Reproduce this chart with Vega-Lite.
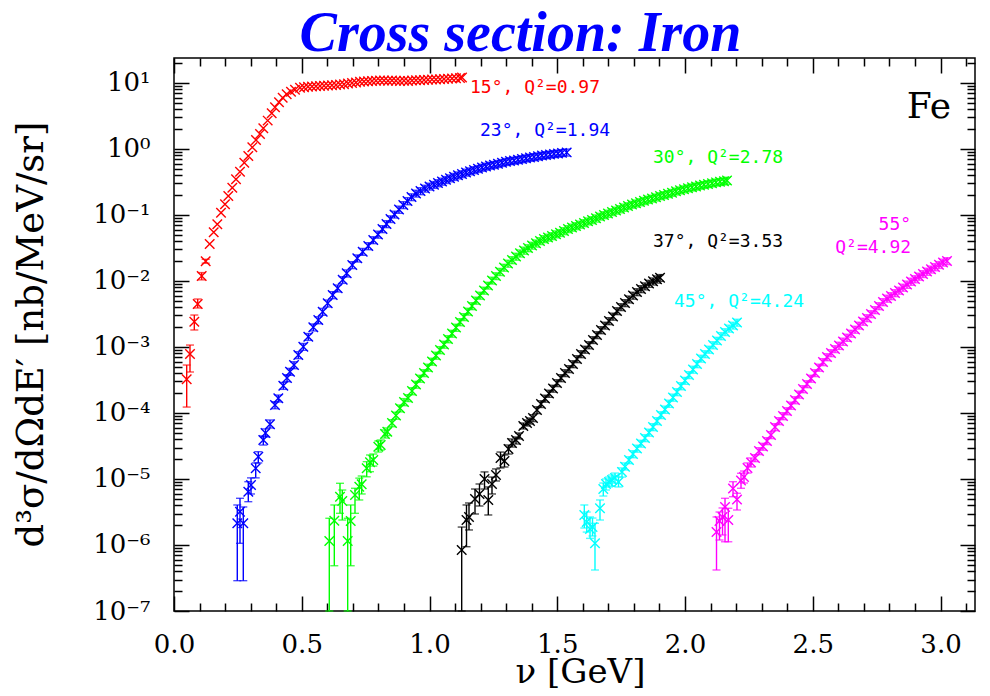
{
  "$schema": "https://vega.github.io/schema/vega-lite/v6.json",
  "width": 801,
  "height": 553,
  "autosize": {"type": "none"},
  "padding": {"left": 174, "top": 58, "right": 15, "bottom": 85},
  "background": "white",
  "title": {
    "text": "Cross section: Iron",
    "font": "Liberation Serif",
    "fontSize": 56,
    "fontStyle": "italic",
    "fontWeight": "bold",
    "color": "#0000ff",
    "anchor": "middle",
    "frame": "group",
    "dx": -54,
    "offset": -50,
    "baseline": "alphabetic"
  },
  "config": {
    "view": {"stroke": "black", "strokeWidth": 1.5},
    "axis": {
      "domain": false,
      "grid": false,
      "tickColor": "black",
      "tickWidth": 1.5,
      "labelColor": "black",
      "titleColor": "black",
      "labelFont": "DejaVu Serif",
      "titleFont": "DejaVu Serif",
      "titleFontWeight": "normal",
      "labelFlush": false,
      "labelOverlap": false
    }
  },
  "datasets": {
    "pts": [
      {"s":"15","x":0.0497,"y":3.24e-4,"lo":1.23e-4,"hi":5.33e-4},
      {"s":"15","x":0.0626,"y":7.83e-4,"lo":4.18e-4,"hi":1.07e-3},
      {"s":"15","x":0.0795,"y":2.42e-3,"lo":1.81e-3,"hi":3.05e-3},
      {"s":"15","x":0.0928,"y":4.49e-3,"lo":3.90e-3,"hi":5.33e-3},
      {"s":"15","x":0.1084,"y":1.19e-2,"lo":1.04e-2,"hi":1.34e-2},
      {"s":"15","x":0.124,"y":1.99e-2,"lo":1.86e-2,"hi":2.13e-2},
      {"s":"15","x":0.1397,"y":3.64e-2},
      {"s":"15","x":0.1554,"y":5.47e-2},
      {"s":"15","x":0.1695,"y":7.23e-2},
      {"s":"15","x":0.184,"y":0.108},
      {"s":"15","x":0.1996,"y":0.145},
      {"s":"15","x":0.2125,"y":0.194},
      {"s":"15","x":0.2282,"y":0.259},
      {"s":"15","x":0.2427,"y":0.348},
      {"s":"15","x":0.2583,"y":0.453},
      {"s":"15","x":0.2751,"y":0.619},
      {"s":"15","x":0.2908,"y":0.784},
      {"s":"15","x":0.3065,"y":1.06},
      {"s":"15","x":0.3209,"y":1.37},
      {"s":"15","x":0.3366,"y":1.69},
      {"s":"15","x":0.3495,"y":2.06},
      {"s":"15","x":0.3667,"y":2.69},
      {"s":"15","x":0.3824,"y":3.47},
      {"s":"15","x":0.3953,"y":4.28},
      {"s":"15","x":0.411,"y":5.11},
      {"s":"15","x":0.4254,"y":5.99},
      {"s":"15","x":0.4411,"y":6.75},
      {"s":"15","x":0.4579,"y":7.38},
      {"s":"15","x":0.4736,"y":7.91},
      {"s":"15","x":0.4932,"y":8.49},
      {"s":"15","x":0.5088,"y":8.63},
      {"s":"15","x":0.5245,"y":8.75},
      {"s":"15","x":0.5401,"y":8.85},
      {"s":"15","x":0.5558,"y":8.95},
      {"s":"15","x":0.5714,"y":9.01},
      {"s":"15","x":0.5871,"y":9.07},
      {"s":"15","x":0.6027,"y":9.17},
      {"s":"15","x":0.6184,"y":9.26},
      {"s":"15","x":0.6341,"y":9.33},
      {"s":"15","x":0.6497,"y":9.46},
      {"s":"15","x":0.6654,"y":9.59},
      {"s":"15","x":0.681,"y":9.79},
      {"s":"15","x":0.6967,"y":10.0},
      {"s":"15","x":0.7123,"y":10.2},
      {"s":"15","x":0.728,"y":10.4},
      {"s":"15","x":0.7436,"y":10.5},
      {"s":"15","x":0.7593,"y":10.6},
      {"s":"15","x":0.775,"y":10.7},
      {"s":"15","x":0.7906,"y":10.8},
      {"s":"15","x":0.8063,"y":10.9},
      {"s":"15","x":0.8219,"y":10.9},
      {"s":"15","x":0.8376,"y":10.8},
      {"s":"15","x":0.8532,"y":10.9},
      {"s":"15","x":0.8689,"y":10.8},
      {"s":"15","x":0.8845,"y":10.7},
      {"s":"15","x":0.9002,"y":10.8},
      {"s":"15","x":0.9159,"y":10.7},
      {"s":"15","x":0.9315,"y":10.9},
      {"s":"15","x":0.9472,"y":11.0},
      {"s":"15","x":0.9628,"y":11.0},
      {"s":"15","x":0.9785,"y":11.1},
      {"s":"15","x":0.9941,"y":11.2},
      {"s":"15","x":1.0098,"y":11.3},
      {"s":"15","x":1.0254,"y":11.3},
      {"s":"15","x":1.0411,"y":11.4},
      {"s":"15","x":1.0568,"y":11.5},
      {"s":"15","x":1.0724,"y":11.6},
      {"s":"15","x":1.0881,"y":11.7},
      {"s":"15","x":1.1037,"y":11.8},
      {"s":"15","x":1.1194,"y":11.9},
      {"s":"15","x":1.1272,"y":12.1},

      {"s":"23","x":0.2477,"y":2.13e-6,"lo":2.88e-7,"hi":4.04e-6},
      {"s":"23","x":0.2583,"y":3.20e-6,"lo":1.06e-6,"hi":5.10e-6},
      {"s":"23","x":0.2712,"y":2.13e-6,"lo":2.88e-7,"hi":3.77e-6},
      {"s":"23","x":0.2908,"y":6.43e-6,"lo":4.53e-6,"hi":9.10e-6},
      {"s":"23","x":0.3014,"y":8.11e-6,"lo":5.93e-6,"hi":1.04e-5},
      {"s":"23","x":0.3198,"y":1.45e-5,"lo":1.04e-5,"hi":1.75e-5},
      {"s":"23","x":0.3299,"y":2.18e-5,"lo":1.75e-5,"hi":2.59e-5},
      {"s":"23","x":0.3495,"y":3.90e-5,"lo":3.27e-5,"hi":4.49e-5},
      {"s":"23","x":0.3581,"y":4.98e-5,"lo":4.33e-5,"hi":5.73e-5},
      {"s":"23","x":0.3757,"y":6.75e-5,"lo":5.93e-5,"hi":7.83e-5},
      {"s":"23","x":0.3953,"y":1.32e-4,"e":1.6e-5},
      {"s":"23","x":0.4082,"y":1.67e-4,"e":2.0e-5},
      {"s":"23","x":0.4278,"y":2.59e-4,"e":3.1e-5},
      {"s":"23","x":0.4423,"y":3.39e-4,"e":4.1e-5},
      {"s":"23","x":0.454,"y":4.23e-4,"e":5.1e-5},
      {"s":"23","x":0.4697,"y":5.33e-4,"e":6.4e-5},
      {"s":"23","x":0.4865,"y":7.57e-4,"e":9.1e-5},
      {"s":"23","x":0.5061,"y":1.01e-3,"e":1.2e-4},
      {"s":"23","x":0.5256,"y":1.43e-3,"e":1.7e-4},
      {"s":"23","x":0.5452,"y":1.99e-3,"e":2.4e-4},
      {"s":"23","x":0.5648,"y":2.56e-3,"e":3.1e-4},
      {"s":"23","x":0.582,"y":3.43e-3,"e":4.1e-4},
      {"s":"23","x":0.6016,"y":4.59e-3,"e":5.5e-4},
      {"s":"23","x":0.6211,"y":6.14e-3,"e":7.4e-4},
      {"s":"23","x":0.6407,"y":7.75e-3,"e":9.3e-4},
      {"s":"23","x":0.6603,"y":1.04e-2,"e":1.2e-3},
      {"s":"23","x":0.6759,"y":1.31e-2,"e":1.6e-3},
      {"s":"23","x":0.6978,"y":1.75e-2,"e":2.1e-3},
      {"s":"23","x":0.7174,"y":2.21e-2,"e":2.7e-3},
      {"s":"23","x":0.7386,"y":2.78e-2,"e":3.3e-3},
      {"s":"23","x":0.7605,"y":3.39e-2,"e":4.1e-3},
      {"s":"23","x":0.78,"y":4.18e-2,"e":5.0e-3},
      {"s":"23","x":0.7984,"y":5.07e-2,"e":6.1e-3},
      {"s":"23","x":0.816,"y":6.14e-2,"e":7.4e-3},
      {"s":"23","x":0.8317,"y":7.31e-2,"e":8.8e-3},
      {"s":"23","x":0.8474,"y":8.69e-2,"e":1.0e-2},
      {"s":"23","x":0.863,"y":0.102,"e":0.012},
      {"s":"23","x":0.8806,"y":0.121,"e":0.015},
      {"s":"23","x":0.8975,"y":0.142,"e":0.017},
      {"s":"23","x":0.9139,"y":0.163,"e":0.020},
      {"s":"23","x":0.9295,"y":0.187,"e":0.022},
      {"s":"23","x":0.9472,"y":0.212,"e":0.025},
      {"s":"23","x":0.9648,"y":0.231,"e":0.028},
      {"s":"23","x":0.9824,"y":0.252,"e":0.030},
      {"s":"23","x":1.0,"y":0.270,"e":0.032},
      {"s":"23","x":1.0176,"y":0.287,"e":0.034},
      {"s":"23","x":1.0333,"y":0.305,"e":0.037},
      {"s":"23","x":1.0489,"y":0.322,"e":0.039},
      {"s":"23","x":1.0646,"y":0.341,"e":0.041},
      {"s":"23","x":1.0802,"y":0.361,"e":0.043},
      {"s":"23","x":1.0959,"y":0.380,"e":0.046},
      {"s":"23","x":1.1115,"y":0.400,"e":0.048},
      {"s":"23","x":1.1272,"y":0.418,"e":0.050},
      {"s":"23","x":1.1429,"y":0.441,"e":0.053},
      {"s":"23","x":1.1585,"y":0.461,"e":0.055},
      {"s":"23","x":1.1742,"y":0.481,"e":0.058},
      {"s":"23","x":1.1898,"y":0.501,"e":0.060},
      {"s":"23","x":1.2055,"y":0.523,"e":0.063},
      {"s":"23","x":1.2211,"y":0.543,"e":0.065},
      {"s":"23","x":1.2368,"y":0.562,"e":0.067},
      {"s":"23","x":1.2524,"y":0.576,"e":0.069},
      {"s":"23","x":1.2681,"y":0.597,"e":0.072},
      {"s":"23","x":1.2838,"y":0.618,"e":0.074},
      {"s":"23","x":1.2994,"y":0.640,"e":0.077},
      {"s":"23","x":1.3151,"y":0.658,"e":0.079},
      {"s":"23","x":1.3307,"y":0.670,"e":0.080},
      {"s":"23","x":1.3464,"y":0.686,"e":0.082},
      {"s":"23","x":1.362,"y":0.705,"e":0.085},
      {"s":"23","x":1.3777,"y":0.723,"e":0.087},
      {"s":"23","x":1.3933,"y":0.741,"e":0.089},
      {"s":"23","x":1.409,"y":0.757,"e":0.091},
      {"s":"23","x":1.4247,"y":0.775,"e":0.093},
      {"s":"23","x":1.4403,"y":0.794,"e":0.095},
      {"s":"23","x":1.456,"y":0.811,"e":0.097},
      {"s":"23","x":1.4716,"y":0.828,"e":0.099},
      {"s":"23","x":1.4873,"y":0.843,"e":0.101},
      {"s":"23","x":1.5029,"y":0.857,"e":0.103},
      {"s":"23","x":1.5186,"y":0.873,"e":0.105},
      {"s":"23","x":1.537,"y":0.888,"e":0.107},

      {"s":"30","x":0.6078,"y":1.15e-6,"lo":1e-7,"hi":2.54e-6},
      {"s":"30","x":0.6274,"y":2.33e-6,"lo":4.85e-7,"hi":4.04e-6},
      {"s":"30","x":0.6497,"y":5.39e-6,"lo":3.02e-6,"hi":8.61e-6},
      {"s":"30","x":0.6587,"y":4.65e-6,"lo":2.39e-6,"hi":6.81e-6},
      {"s":"30","x":0.6798,"y":1.15e-6,"lo":1e-7,"hi":2.54e-6},
      {"s":"30","x":0.6916,"y":2.31e-6,"lo":4.85e-7,"hi":4.04e-6},
      {"s":"30","x":0.7084,"y":5.73e-6,"lo":3.02e-6,"hi":7.23e-6},
      {"s":"30","x":0.7252,"y":7.64e-6,"lo":4.81e-6,"hi":1.03e-5},
      {"s":"30","x":0.7346,"y":8.32e-6,"lo":5.93e-6,"hi":1.11e-5},
      {"s":"30","x":0.7542,"y":1.45e-5,"lo":1.08e-5,"hi":1.83e-5},
      {"s":"30","x":0.7671,"y":1.79e-5,"lo":1.29e-5,"hi":2.31e-5},
      {"s":"30","x":0.78,"y":1.94e-5,"lo":1.57e-5,"hi":2.39e-5},
      {"s":"30","x":0.7996,"y":3.08e-5,"lo":2.56e-5,"hi":3.77e-5},
      {"s":"30","x":0.809,"y":3.27e-5,"lo":2.75e-5,"hi":3.90e-5},
      {"s":"30","x":0.8258,"y":4.81e-5,"lo":4.18e-5,"hi":5.52e-5},
      {"s":"30","x":0.8348,"y":5.21e-5,"lo":4.56e-5,"hi":5.93e-5},
      {"s":"30","x":0.8532,"y":7.05e-5,"e":8.5e-6},
      {"s":"30","x":0.8689,"y":9.16e-5,"e":1.1e-5},
      {"s":"30","x":0.8845,"y":1.18e-4,"e":1.4e-5},
      {"s":"30","x":0.9002,"y":1.47e-4,"e":1.8e-5},
      {"s":"30","x":0.9159,"y":1.69e-4,"e":2.0e-5},
      {"s":"30","x":0.9315,"y":2.15e-4,"e":2.6e-5},
      {"s":"30","x":0.9472,"y":2.70e-4,"e":3.2e-5},
      {"s":"30","x":0.9628,"y":3.33e-4,"e":4.0e-5},
      {"s":"30","x":0.9785,"y":4.04e-4,"e":4.8e-5},
      {"s":"30","x":0.9941,"y":4.89e-4,"e":5.9e-5},
      {"s":"30","x":1.0098,"y":6.03e-4,"e":7.2e-5},
      {"s":"30","x":1.0254,"y":7.43e-4,"e":8.9e-5},
      {"s":"30","x":1.0411,"y":9.02e-4,"e":1.1e-4},
      {"s":"30","x":1.0568,"y":1.09e-3,"e":1.3e-4},
      {"s":"30","x":1.0724,"y":1.32e-3,"e":1.6e-4},
      {"s":"30","x":1.0881,"y":1.60e-3,"e":1.9e-4},
      {"s":"30","x":1.1037,"y":1.97e-3,"e":2.4e-4},
      {"s":"30","x":1.1194,"y":2.39e-3,"e":2.9e-4},
      {"s":"30","x":1.135,"y":2.85e-3,"e":3.4e-4},
      {"s":"30","x":1.1507,"y":3.45e-3,"e":4.1e-4},
      {"s":"30","x":1.1663,"y":4.18e-3,"e":5.0e-4},
      {"s":"30","x":1.182,"y":5.07e-3,"e":6.1e-4},
      {"s":"30","x":1.1977,"y":6.03e-3,"e":7.2e-4},
      {"s":"30","x":1.2133,"y":7.18e-3,"e":8.6e-4},
      {"s":"30","x":1.229,"y":8.55e-3,"e":1.0e-3},
      {"s":"30","x":1.2446,"y":1.02e-2,"e":1.2e-3},
      {"s":"30","x":1.2603,"y":1.19e-2,"e":1.4e-3},
      {"s":"30","x":1.2759,"y":1.38e-2,"e":1.7e-3},
      {"s":"30","x":1.2916,"y":1.60e-2,"e":1.9e-3},
      {"s":"30","x":1.3072,"y":1.84e-2,"e":2.2e-3},
      {"s":"30","x":1.3229,"y":2.08e-2,"e":2.5e-3},
      {"s":"30","x":1.3386,"y":2.35e-2,"e":2.8e-3},
      {"s":"30","x":1.3542,"y":2.63e-2,"e":3.2e-3},
      {"s":"30","x":1.3699,"y":2.90e-2,"e":3.5e-3},
      {"s":"30","x":1.3855,"y":3.16e-2,"e":3.8e-3},
      {"s":"30","x":1.4012,"y":3.45e-2,"e":4.1e-3},
      {"s":"30","x":1.4168,"y":3.72e-2,"e":4.5e-3},
      {"s":"30","x":1.4325,"y":4.04e-2,"e":4.8e-3},
      {"s":"30","x":1.4481,"y":4.33e-2,"e":5.2e-3},
      {"s":"30","x":1.4638,"y":4.56e-2,"e":5.5e-3},
      {"s":"30","x":1.4795,"y":4.81e-2,"e":5.8e-3},
      {"s":"30","x":1.4951,"y":5.12e-2,"e":6.1e-3},
      {"s":"30","x":1.5108,"y":5.37e-2,"e":6.4e-3},
      {"s":"30","x":1.5264,"y":5.73e-2,"e":6.9e-3},
      {"s":"30","x":1.5421,"y":6.14e-2,"e":7.4e-3},
      {"s":"30","x":1.5577,"y":6.47e-2,"e":7.8e-3},
      {"s":"30","x":1.5734,"y":6.81e-2,"e":8.2e-3},
      {"s":"30","x":1.589,"y":7.18e-2,"e":8.6e-3},
      {"s":"30","x":1.6047,"y":7.57e-2,"e":9.1e-3},
      {"s":"30","x":1.6204,"y":8.03e-2,"e":9.6e-3},
      {"s":"30","x":1.636,"y":8.40e-2,"e":1.0e-2},
      {"s":"30","x":1.6517,"y":8.91e-2,"e":1.1e-2},
      {"s":"30","x":1.6673,"y":9.49e-2,"e":1.1e-2},
      {"s":"30","x":1.683,"y":0.100,"e":0.012},
      {"s":"30","x":1.6986,"y":0.105,"e":0.013},
      {"s":"30","x":1.7143,"y":0.111,"e":0.013},
      {"s":"30","x":1.73,"y":0.117,"e":0.014},
      {"s":"30","x":1.7456,"y":0.123,"e":0.015},
      {"s":"30","x":1.7613,"y":0.130,"e":0.016},
      {"s":"30","x":1.7769,"y":0.137,"e":0.016},
      {"s":"30","x":1.7926,"y":0.144,"e":0.017},
      {"s":"30","x":1.8082,"y":0.150,"e":0.018},
      {"s":"30","x":1.8239,"y":0.157,"e":0.019},
      {"s":"30","x":1.8395,"y":0.164,"e":0.020},
      {"s":"30","x":1.8552,"y":0.171,"e":0.021},
      {"s":"30","x":1.8708,"y":0.178,"e":0.021},
      {"s":"30","x":1.8865,"y":0.185,"e":0.022},
      {"s":"30","x":1.9022,"y":0.194,"e":0.023},
      {"s":"30","x":1.9178,"y":0.201,"e":0.024},
      {"s":"30","x":1.9335,"y":0.209,"e":0.025},
      {"s":"30","x":1.9491,"y":0.218,"e":0.026},
      {"s":"30","x":1.9648,"y":0.228,"e":0.027},
      {"s":"30","x":1.9804,"y":0.237,"e":0.028},
      {"s":"30","x":1.9961,"y":0.246,"e":0.030},
      {"s":"30","x":2.0117,"y":0.255,"e":0.031},
      {"s":"30","x":2.0274,"y":0.263,"e":0.032},
      {"s":"30","x":2.0431,"y":0.271,"e":0.033},
      {"s":"30","x":2.0587,"y":0.279,"e":0.033},
      {"s":"30","x":2.0744,"y":0.287,"e":0.034},
      {"s":"30","x":2.09,"y":0.295,"e":0.035},
      {"s":"30","x":2.1057,"y":0.303,"e":0.036},
      {"s":"30","x":2.1213,"y":0.312,"e":0.037},
      {"s":"30","x":2.137,"y":0.318,"e":0.038},
      {"s":"30","x":2.1526,"y":0.325,"e":0.039},
      {"s":"30","x":2.1644,"y":0.332,"e":0.040},

      {"s":"37","x":1.126,"y":8.39e-7,"lo":1e-7,"hi":1.87e-6},
      {"s":"37","x":1.1448,"y":2.39e-6,"lo":9.42e-7,"hi":4.04e-6},
      {"s":"37","x":1.1546,"y":2.66e-6,"lo":1.69e-6,"hi":4.33e-6},
      {"s":"37","x":1.1781,"y":4.98e-6,"lo":2.95e-6,"hi":7.05e-6},
      {"s":"37","x":1.1957,"y":5.93e-6,"lo":3.90e-6,"hi":8.40e-6},
      {"s":"37","x":1.2153,"y":1.00e-5,"lo":7.05e-6,"hi":1.28e-5},
      {"s":"37","x":1.2301,"y":4.81e-6,"lo":2.85e-6,"hi":7.57e-6},
      {"s":"37","x":1.2446,"y":8.40e-6,"lo":5.93e-6,"hi":1.07e-5},
      {"s":"37","x":1.2603,"y":1.15e-5,"lo":9.33e-6,"hi":1.42e-5},
      {"s":"37","x":1.2779,"y":2.08e-5,"lo":1.47e-5,"hi":2.56e-5},
      {"s":"37","x":1.2935,"y":1.87e-5,"lo":1.52e-5,"hi":2.31e-5},
      {"s":"37","x":1.3092,"y":2.85e-5,"lo":2.39e-5,"hi":3.27e-5},
      {"s":"37","x":1.3229,"y":3.51e-5,"lo":3.05e-5,"hi":4.04e-5},
      {"s":"37","x":1.3386,"y":3.90e-5,"lo":3.39e-5,"hi":4.33e-5},
      {"s":"37","x":1.3503,"y":4.49e-5,"lo":4.04e-5,"hi":4.98e-5},
      {"s":"37","x":1.3671,"y":6.35e-5,"lo":5.73e-5,"hi":7.05e-5},
      {"s":"37","x":1.3816,"y":7.05e-5,"lo":6.35e-5,"hi":7.83e-5},
      {"s":"37","x":1.3933,"y":7.57e-5,"lo":6.81e-5,"hi":8.40e-5},
      {"s":"37","x":1.4051,"y":8.40e-5,"e":1.0e-5},
      {"s":"37","x":1.4207,"y":1.11e-4,"e":1.3e-5},
      {"s":"37","x":1.4364,"y":1.37e-4,"e":1.6e-5},
      {"s":"37","x":1.4521,"y":1.66e-4,"e":2.0e-5},
      {"s":"37","x":1.4677,"y":1.97e-4,"e":2.4e-5},
      {"s":"37","x":1.4834,"y":2.35e-4,"e":2.8e-5},
      {"s":"37","x":1.499,"y":2.85e-4,"e":3.4e-5},
      {"s":"37","x":1.5147,"y":3.39e-4,"e":4.1e-5},
      {"s":"37","x":1.5303,"y":4.04e-4,"e":4.8e-5},
      {"s":"37","x":1.546,"y":4.65e-4,"e":5.6e-5},
      {"s":"37","x":1.5616,"y":5.52e-4,"e":6.6e-5},
      {"s":"37","x":1.5773,"y":6.58e-4,"e":7.9e-5},
      {"s":"37","x":1.593,"y":7.83e-4,"e":9.4e-5},
      {"s":"37","x":1.6086,"y":9.16e-4,"e":1.1e-4},
      {"s":"37","x":1.6243,"y":1.07e-3,"e":1.3e-4},
      {"s":"37","x":1.6399,"y":1.28e-3,"e":1.5e-4},
      {"s":"37","x":1.6556,"y":1.52e-3,"e":1.8e-4},
      {"s":"37","x":1.6712,"y":1.81e-3,"e":2.2e-4},
      {"s":"37","x":1.6869,"y":2.12e-3,"e":2.5e-4},
      {"s":"37","x":1.7025,"y":2.48e-3,"e":3.0e-4},
      {"s":"37","x":1.7182,"y":2.90e-3,"e":3.5e-4},
      {"s":"37","x":1.7339,"y":3.51e-3,"e":4.2e-4},
      {"s":"37","x":1.7495,"y":4.04e-3,"e":4.8e-4},
      {"s":"37","x":1.7652,"y":4.65e-3,"e":5.6e-4},
      {"s":"37","x":1.7808,"y":5.28e-3,"e":6.3e-4},
      {"s":"37","x":1.7965,"y":6.03e-3,"e":7.2e-4},
      {"s":"37","x":1.8121,"y":6.81e-3,"e":8.2e-4},
      {"s":"37","x":1.8278,"y":7.57e-3,"e":9.1e-4},
      {"s":"37","x":1.8434,"y":8.34e-3,"e":1.0e-3},
      {"s":"37","x":1.8591,"y":9.13e-3,"e":1.1e-3},
      {"s":"37","x":1.8748,"y":9.89e-3,"e":1.2e-3},
      {"s":"37","x":1.8904,"y":1.06e-2,"e":1.3e-3},
      {"s":"37","x":1.9022,"y":1.12e-2,"e":1.3e-3},

      {"s":"45","x":1.6059,"y":2.85e-6,"lo":1.81e-6,"hi":4.04e-6},
      {"s":"45","x":1.6153,"y":2.23e-6,"lo":1.57e-6,"hi":3.16e-6},
      {"s":"45","x":1.6282,"y":1.75e-6,"lo":1.26e-6,"hi":2.66e-6},
      {"s":"45","x":1.638,"y":1.87e-6,"lo":1.37e-6,"hi":2.56e-6},
      {"s":"45","x":1.6477,"y":1.06e-6,"lo":4.18e-7,"hi":2.13e-6},
      {"s":"45","x":1.6673,"y":3.60e-6,"lo":2.39e-6,"hi":4.81e-6},
      {"s":"45","x":1.6802,"y":7.05e-6,"lo":5.52e-6,"hi":8.69e-6},
      {"s":"45","x":1.6908,"y":8.40e-6,"lo":6.81e-6,"hi":1.0e-5},
      {"s":"45","x":1.7025,"y":9.01e-6,"lo":7.57e-6,"hi":1.07e-5},
      {"s":"45","x":1.7143,"y":9.66e-6,"lo":7.83e-6,"hi":1.15e-5},
      {"s":"45","x":1.726,"y":1.04e-5,"lo":8.69e-6,"hi":1.23e-5},
      {"s":"45","x":1.7397,"y":9.01e-6,"lo":7.57e-6,"hi":1.07e-5},
      {"s":"45","x":1.7534,"y":1.28e-5,"lo":1.07e-5,"hi":1.47e-5},
      {"s":"45","x":1.7652,"y":1.53e-5,"lo":1.37e-5,"hi":1.75e-5},
      {"s":"45","x":1.7808,"y":1.94e-5,"e":2.3e-6},
      {"s":"45","x":1.7965,"y":2.39e-5,"e":2.9e-6},
      {"s":"45","x":1.8121,"y":2.90e-5,"e":3.5e-6},
      {"s":"45","x":1.8278,"y":3.45e-5,"e":4.1e-6},
      {"s":"45","x":1.8434,"y":4.18e-5,"e":5.0e-6},
      {"s":"45","x":1.8591,"y":5.07e-5,"e":6.1e-6},
      {"s":"45","x":1.8748,"y":6.14e-5,"e":7.4e-6},
      {"s":"45","x":1.8904,"y":7.57e-5,"e":9.1e-6},
      {"s":"45","x":1.9061,"y":9.33e-5,"e":1.1e-5},
      {"s":"45","x":1.9217,"y":1.13e-4,"e":1.4e-5},
      {"s":"45","x":1.9374,"y":1.39e-4,"e":1.7e-5},
      {"s":"45","x":1.953,"y":1.72e-4,"e":2.1e-5},
      {"s":"45","x":1.9687,"y":2.08e-4,"e":2.5e-5},
      {"s":"45","x":1.9843,"y":2.56e-4,"e":3.1e-5},
      {"s":"45","x":2.0,"y":3.10e-4,"e":3.7e-5},
      {"s":"45","x":2.0157,"y":3.77e-4,"e":4.5e-5},
      {"s":"45","x":2.0313,"y":4.56e-4,"e":5.5e-5},
      {"s":"45","x":2.047,"y":5.52e-4,"e":6.6e-5},
      {"s":"45","x":2.0626,"y":6.70e-4,"e":8.0e-5},
      {"s":"45","x":2.0783,"y":7.83e-4,"e":9.4e-5},
      {"s":"45","x":2.0939,"y":9.16e-4,"e":1.1e-4},
      {"s":"45","x":2.1096,"y":1.07e-3,"e":1.3e-4},
      {"s":"45","x":2.1252,"y":1.25e-3,"e":1.5e-4},
      {"s":"45","x":2.1409,"y":1.47e-3,"e":1.8e-4},
      {"s":"45","x":2.1566,"y":1.69e-3,"e":2.0e-4},
      {"s":"45","x":2.1722,"y":1.91e-3,"e":2.3e-4},
      {"s":"45","x":2.1879,"y":2.12e-3,"e":2.5e-4},
      {"s":"45","x":2.2035,"y":2.35e-3,"e":2.8e-4},

      {"s":"55","x":2.1233,"y":1.57e-6,"lo":4.18e-7,"hi":2.66e-6},
      {"s":"55","x":2.135,"y":2.31e-6,"lo":1.19e-6,"hi":3.16e-6},
      {"s":"55","x":2.1468,"y":2.66e-6,"lo":1.42e-6,"hi":3.64e-6},
      {"s":"55","x":2.1566,"y":3.77e-6,"lo":1.12e-6,"hi":5.10e-6},
      {"s":"55","x":2.1695,"y":2.39e-6,"lo":1.12e-6,"hi":3.60e-6},
      {"s":"55","x":2.1879,"y":7.18e-6,"lo":5.39e-6,"hi":9.10e-6},
      {"s":"55","x":2.2035,"y":4.89e-6,"lo":3.39e-6,"hi":6.07e-6},
      {"s":"55","x":2.2192,"y":9.49e-6,"lo":7.23e-6,"hi":1.22e-5},
      {"s":"55","x":2.2309,"y":1.07e-5,"lo":8.69e-6,"hi":1.32e-5},
      {"s":"55","x":2.2446,"y":1.47e-5,"lo":1.23e-5,"hi":1.75e-5},
      {"s":"55","x":2.2583,"y":1.78e-5,"lo":1.52e-5,"hi":2.08e-5},
      {"s":"55","x":2.274,"y":2.08e-5,"e":2.5e-6},
      {"s":"55","x":2.2896,"y":2.66e-5,"e":3.2e-6},
      {"s":"55","x":2.3053,"y":3.10e-5,"e":3.7e-6},
      {"s":"55","x":2.3209,"y":3.77e-5,"e":4.5e-6},
      {"s":"55","x":2.3366,"y":4.65e-5,"e":5.6e-6},
      {"s":"55","x":2.3523,"y":6.14e-5,"e":7.4e-6},
      {"s":"55","x":2.3679,"y":7.57e-5,"e":9.1e-6},
      {"s":"55","x":2.3836,"y":9.01e-5,"e":1.1e-5},
      {"s":"55","x":2.3992,"y":1.07e-4,"e":1.3e-5},
      {"s":"55","x":2.4149,"y":1.30e-4,"e":1.6e-5},
      {"s":"55","x":2.4305,"y":1.57e-4,"e":1.9e-5},
      {"s":"55","x":2.4462,"y":1.91e-4,"e":2.3e-5},
      {"s":"55","x":2.4618,"y":2.31e-4,"e":2.8e-5},
      {"s":"55","x":2.4775,"y":2.75e-4,"e":3.3e-5},
      {"s":"55","x":2.4932,"y":3.33e-4,"e":4.0e-5},
      {"s":"55","x":2.5088,"y":4.04e-4,"e":4.8e-5},
      {"s":"55","x":2.5245,"y":4.89e-4,"e":5.9e-5},
      {"s":"55","x":2.5401,"y":5.93e-4,"e":7.1e-5},
      {"s":"55","x":2.5558,"y":7.05e-4,"e":8.5e-5},
      {"s":"55","x":2.5714,"y":8.11e-4,"e":9.7e-5},
      {"s":"55","x":2.5871,"y":9.33e-4,"e":1.1e-4},
      {"s":"55","x":2.6027,"y":1.05e-3,"e":1.3e-4},
      {"s":"55","x":2.6184,"y":1.21e-3,"e":1.5e-4},
      {"s":"55","x":2.6341,"y":1.39e-3,"e":1.7e-4},
      {"s":"55","x":2.6497,"y":1.60e-3,"e":1.9e-4},
      {"s":"55","x":2.6654,"y":1.84e-3,"e":2.2e-4},
      {"s":"55","x":2.681,"y":2.12e-3,"e":2.5e-4},
      {"s":"55","x":2.6967,"y":2.43e-3,"e":2.9e-4},
      {"s":"55","x":2.7123,"y":2.75e-3,"e":3.3e-4},
      {"s":"55","x":2.728,"y":3.16e-3,"e":3.8e-4},
      {"s":"55","x":2.7436,"y":3.64e-3,"e":4.4e-4},
      {"s":"55","x":2.7593,"y":4.18e-3,"e":5.0e-4},
      {"s":"55","x":2.775,"y":4.81e-3,"e":5.8e-4},
      {"s":"55","x":2.7906,"y":5.43e-3,"e":6.5e-4},
      {"s":"55","x":2.8063,"y":5.93e-3,"e":7.1e-4},
      {"s":"55","x":2.8219,"y":6.58e-3,"e":7.9e-4},
      {"s":"55","x":2.8376,"y":7.18e-3,"e":8.6e-4},
      {"s":"55","x":2.8532,"y":7.97e-3,"e":9.6e-4},
      {"s":"55","x":2.8689,"y":8.85e-3,"e":1.1e-3},
      {"s":"55","x":2.8845,"y":9.82e-3,"e":1.2e-3},
      {"s":"55","x":2.9002,"y":1.07e-2,"e":1.3e-3},
      {"s":"55","x":2.9159,"y":1.17e-2,"e":1.4e-3},
      {"s":"55","x":2.9315,"y":1.28e-2,"e":1.5e-3},
      {"s":"55","x":2.9472,"y":1.39e-2,"e":1.7e-3},
      {"s":"55","x":2.9628,"y":1.50e-2,"e":1.8e-3},
      {"s":"55","x":2.9785,"y":1.63e-2,"e":2.0e-3},
      {"s":"55","x":2.9941,"y":1.76e-2,"e":2.1e-3},
      {"s":"55","x":3.0098,"y":1.91e-2,"e":2.3e-3},
      {"s":"55","x":3.0254,"y":2.01e-2,"e":2.4e-3}
    ],
    "labels": [
      {"s":"15","t":"15°, Q²=0.97","x":1.1585,"y":8.4},
      {"s":"23","t":"23°, Q²=1.94","x":1.1977,"y":1.87},
      {"s":"30","t":"30°, Q²=2.78","x":1.8748,"y":0.731},
      {"s":"37","t":"37°, Q²=3.53","x":1.8748,"y":0.039},
      {"s":"45","t":"45°, Q²=4.24","x":1.957,"y":0.00481},
      {"s":"55","t":"55°","x":2.885,"y":0.0705},
      {"s":"55","t":"Q²=4.92","x":2.885,"y":0.0316}
    ],
    "tag": [
      {"t":"Fe","x":3.041,"y":2.95}
    ]
  },
  "resolve": {"axis": {"x": "independent", "y": "independent"}},
  "layer": [
    {
      "data": {"name": "pts"},
      "mark": {"type": "point", "opacity": 0},
      "encoding": {
        "x": {
          "field": "x", "type": "quantitative",
          "scale": {"domain": [0, 3.135], "nice": false, "zero": false},
          "axis": {
            "orient": "bottom", "values": [0, 0.5, 1, 1.5, 2, 2.5, 3], "format": ".1f",
            "tickSize": -15, "labelPadding": 35, "labelFontSize": 26,
            "title": "ν [GeV]", "titleFontSize": 34, "titleX": 406, "titleY": 61,
            "titleBaseline": "middle", "titleAnchor": "middle"
          }
        },
        "y": {
          "field": "y", "type": "quantitative",
          "scale": {"type": "log", "domain": [1e-7, 23.9], "nice": false},
          "axis": {
            "orient": "left", "values": [1e-7, 1e-6, 1e-5, 1e-4, 1e-3, 1e-2, 1e-1, 1, 10],
            "labelExpr": "'10' + ['⁻⁷','⁻⁶','⁻⁵','⁻⁴','⁻³','⁻²','⁻¹','⁰','¹'][round(log(datum.value)/LN10) + 7]",
            "tickSize": -15, "labelPadding": 39, "labelFontSize": 26, "labelBaseline": "middle",
            "title": "d³σ/dΩdE′ [nb/MeV/sr]", "titleFontSize": 37, "titleAngle": -90,
            "titleX": -143, "titleY": 276, "titleBaseline": "middle", "titleAlign": "center"
          }
        }
      }
    },
    {
      "data": {"name": "pts"},
      "mark": {"type": "point", "opacity": 0},
      "encoding": {
        "x": {
          "field": "x", "type": "quantitative",
          "scale": {"domain": [0, 3.135], "nice": false, "zero": false},
          "axis": {
            "orient": "bottom",
            "values": [0.1, 0.2, 0.3, 0.4, 0.6, 0.7, 0.8, 0.9, 1.1, 1.2, 1.3, 1.4, 1.6, 1.7, 1.8, 1.9, 2.1, 2.2, 2.3, 2.4, 2.6, 2.7, 2.8, 2.9, 3.1],
            "tickSize": -8, "labels": false, "title": null
          }
        },
        "y": {
          "field": "y", "type": "quantitative",
          "scale": {"type": "log", "domain": [1e-7, 23.9], "nice": false},
          "axis": {
            "orient": "left",
            "values": [2e-7, 3e-7, 4e-7, 5e-7, 6e-7, 7e-7, 8e-7, 9e-7, 2e-6, 3e-6, 4e-6, 5e-6, 6e-6, 7e-6, 8e-6, 9e-6, 2e-5, 3e-5, 4e-5, 5e-5, 6e-5, 7e-5, 8e-5, 9e-5, 2e-4, 3e-4, 4e-4, 5e-4, 6e-4, 7e-4, 8e-4, 9e-4, 0.002, 0.003, 0.004, 0.005, 0.006, 0.007, 0.008, 0.009, 0.02, 0.03, 0.04, 0.05, 0.06, 0.07, 0.08, 0.09, 0.2, 0.3, 0.4, 0.5, 0.6, 0.7, 0.8, 0.9, 2, 3, 4, 5, 6, 7, 8, 9, 20],
            "tickSize": -8, "labels": false, "title": null
          }
        }
      }
    },
    {
      "data": {"name": "pts"},
      "mark": {"type": "point", "opacity": 0},
      "encoding": {
        "x": {
          "field": "x", "type": "quantitative",
          "scale": {"domain": [0, 3.135], "nice": false, "zero": false},
          "axis": {"orient": "top", "values": [0, 0.5, 1, 1.5, 2, 2.5, 3], "tickSize": -15, "labels": false, "title": null}
        },
        "y": {
          "field": "y", "type": "quantitative",
          "scale": {"type": "log", "domain": [1e-7, 23.9], "nice": false},
          "axis": {"orient": "right", "values": [1e-7, 1e-6, 1e-5, 1e-4, 1e-3, 1e-2, 1e-1, 1, 10], "tickSize": -15, "labels": false, "title": null}
        }
      }
    },
    {
      "data": {"name": "pts"},
      "mark": {"type": "point", "opacity": 0},
      "encoding": {
        "x": {
          "field": "x", "type": "quantitative",
          "scale": {"domain": [0, 3.135], "nice": false, "zero": false},
          "axis": {
            "orient": "top",
            "values": [0.1, 0.2, 0.3, 0.4, 0.6, 0.7, 0.8, 0.9, 1.1, 1.2, 1.3, 1.4, 1.6, 1.7, 1.8, 1.9, 2.1, 2.2, 2.3, 2.4, 2.6, 2.7, 2.8, 2.9, 3.1],
            "tickSize": -8, "labels": false, "title": null
          }
        },
        "y": {
          "field": "y", "type": "quantitative",
          "scale": {"type": "log", "domain": [1e-7, 23.9], "nice": false},
          "axis": {
            "orient": "right",
            "values": [2e-7, 3e-7, 4e-7, 5e-7, 6e-7, 7e-7, 8e-7, 9e-7, 2e-6, 3e-6, 4e-6, 5e-6, 6e-6, 7e-6, 8e-6, 9e-6, 2e-5, 3e-5, 4e-5, 5e-5, 6e-5, 7e-5, 8e-5, 9e-5, 2e-4, 3e-4, 4e-4, 5e-4, 6e-4, 7e-4, 8e-4, 9e-4, 0.002, 0.003, 0.004, 0.005, 0.006, 0.007, 0.008, 0.009, 0.02, 0.03, 0.04, 0.05, 0.06, 0.07, 0.08, 0.09, 0.2, 0.3, 0.4, 0.5, 0.6, 0.7, 0.8, 0.9, 2, 3, 4, 5, 6, 7, 8, 9, 20],
            "tickSize": -8, "labels": false, "title": null
          }
        }
      }
    },
    {
      "data": {"name": "pts"},
      "transform": [{"filter": "isValid(datum.lo)"}],
      "mark": {"type": "errorbar", "ticks": {"size": 8, "thickness": 1.4}, "rule": {"strokeWidth": 1.4}},
      "encoding": {
        "x": {"field": "x", "type": "quantitative", "axis": null},
        "y": {"field": "lo", "type": "quantitative", "axis": null},
        "y2": {"field": "hi"},
        "color": {
          "field": "s", "type": "nominal", "legend": null,
          "scale": {"domain": ["15", "23", "30", "37", "45", "55"], "range": ["#ff0000", "#0000ff", "#00ff00", "#000000", "#00ffff", "#ff00ff"]}
        }
      }
    },
    {
      "data": {"name": "pts"},
      "transform": [{"filter": "isValid(datum.e)"}],
      "mark": {"type": "errorbar", "ticks": {"size": 8, "thickness": 1.4}, "rule": {"strokeWidth": 1.4}},
      "encoding": {
        "x": {"field": "x", "type": "quantitative", "axis": null},
        "y": {"field": "y", "type": "quantitative", "axis": null},
        "yError": {"field": "e"},
        "color": {
          "field": "s", "type": "nominal", "legend": null,
          "scale": {"domain": ["15", "23", "30", "37", "45", "55"], "range": ["#ff0000", "#0000ff", "#00ff00", "#000000", "#00ffff", "#ff00ff"]}
        }
      }
    },
    {
      "data": {"name": "pts"},
      "mark": {"type": "point", "shape": "M-1,-1L1,1M-1,1L1,-1", "size": 90, "filled": false, "strokeWidth": 1.4, "opacity": 1},
      "encoding": {
        "x": {"field": "x", "type": "quantitative", "axis": null},
        "y": {"field": "y", "type": "quantitative", "axis": null},
        "color": {
          "field": "s", "type": "nominal", "legend": null,
          "scale": {"domain": ["15", "23", "30", "37", "45", "55"], "range": ["#ff0000", "#0000ff", "#00ff00", "#000000", "#00ffff", "#ff00ff"]}
        }
      }
    },
    {
      "data": {"name": "labels"},
      "transform": [{"filter": "datum.s !== '55'"}],
      "mark": {"type": "text", "font": "DejaVu Sans Mono", "fontSize": 18, "align": "left", "baseline": "middle"},
      "encoding": {
        "x": {"field": "x", "type": "quantitative", "axis": null},
        "y": {"field": "y", "type": "quantitative", "axis": null},
        "text": {"field": "t"},
        "color": {
          "field": "s", "type": "nominal", "legend": null,
          "scale": {"domain": ["15", "23", "30", "37", "45", "55"], "range": ["#ff0000", "#0000ff", "#00ff00", "#000000", "#00ffff", "#ff00ff"]}
        }
      }
    },
    {
      "data": {"name": "labels"},
      "transform": [{"filter": "datum.s === '55'"}],
      "mark": {"type": "text", "font": "DejaVu Sans Mono", "fontSize": 18, "align": "right", "baseline": "middle"},
      "encoding": {
        "x": {"field": "x", "type": "quantitative", "axis": null},
        "y": {"field": "y", "type": "quantitative", "axis": null},
        "text": {"field": "t"},
        "color": {
          "field": "s", "type": "nominal", "legend": null,
          "scale": {"domain": ["15", "23", "30", "37", "45", "55"], "range": ["#ff0000", "#0000ff", "#00ff00", "#000000", "#00ffff", "#ff00ff"]}
        }
      }
    },
    {
      "data": {"name": "tag"},
      "mark": {"type": "text", "font": "DejaVu Serif", "fontSize": 36, "align": "right", "baseline": "alphabetic", "color": "black"},
      "encoding": {
        "x": {"field": "x", "type": "quantitative", "axis": null},
        "y": {"field": "y", "type": "quantitative", "axis": null},
        "text": {"field": "t"}
      }
    }
  ]
}
